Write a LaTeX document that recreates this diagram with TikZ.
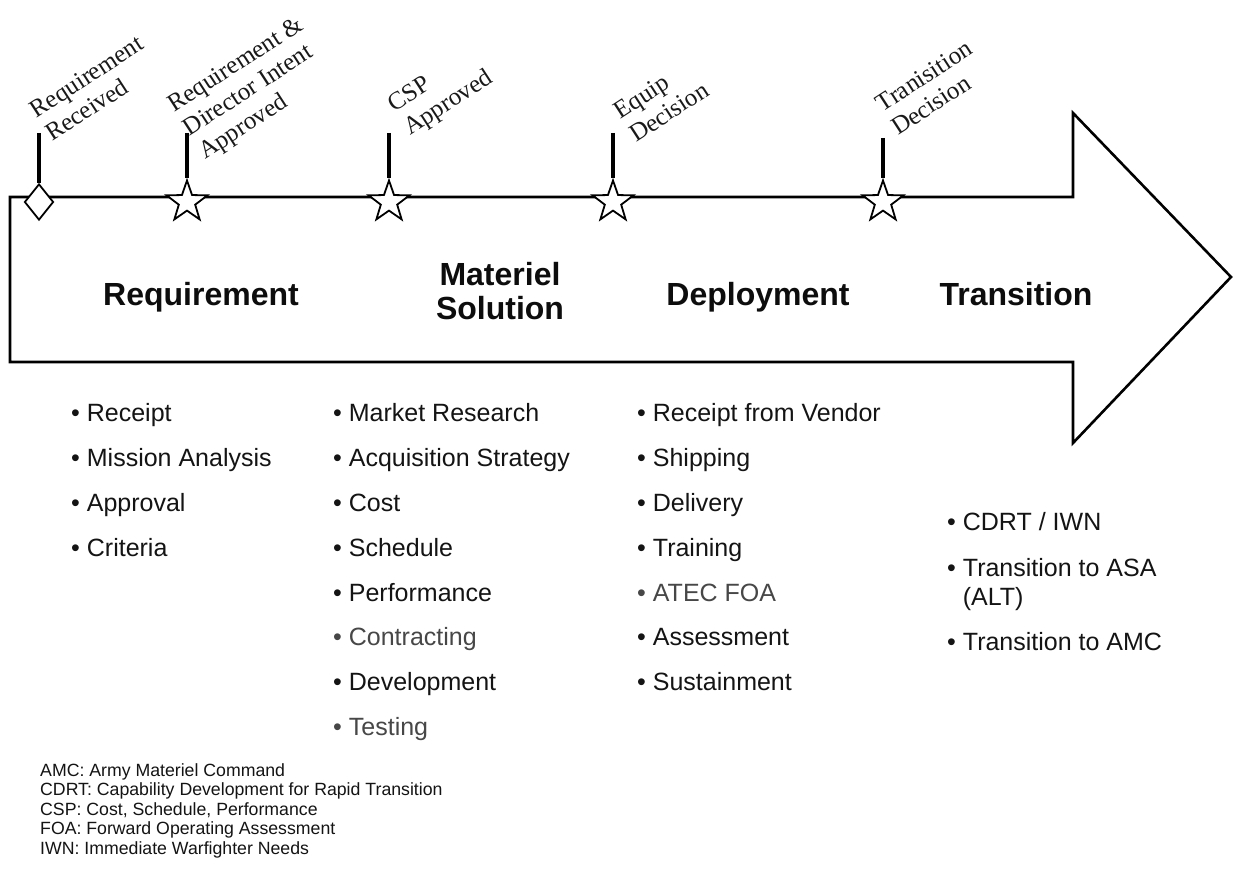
\documentclass[tikz,border=0pt]{standalone}
\usepackage{fontspec}
\setmainfont{Liberation Sans}
\newfontfamily\lblserif{Liberation Serif}
\usetikzlibrary{shapes.geometric}
\newcommand{\lblstack}[1]{\begin{tabular}[b]{@{}l@{}}#1\end{tabular}}
\begin{document}
\begin{tikzpicture}[x=1pt,y=-1pt,
  lbl/.style={font=\lblserif\fontsize{25}{28}\selectfont, rotate=33, anchor=base west, inner sep=0pt, text=black!90},
  head/.style={font=\bfseries\fontsize{32}{34}\selectfont, align=center, inner sep=0pt, text=black!95},
  item/.style={font=\fontsize{25}{29}\selectfont, anchor=base west, inner sep=0pt, text=black!92},
  gitem/.style={item, text=black!72},
  legend/.style={font=\fontsize{17.7}{19.5}\selectfont, anchor=base west, inner sep=0pt, text=black!92},
  tickline/.style={line width=3.6pt},
  outline/.style={line width=2.6pt, line join=miter},
  starmark/.style={star, star points=5, star point ratio=2.5, draw, fill=white, line width=1.8pt, minimum size=43pt, inner sep=0pt},
  diamark/.style={diamond, draw, fill=white, line width=1.8pt, minimum width=29pt, minimum height=36pt, inner sep=0pt},
]
\useasboundingbox (0,0) rectangle (1233,877);
\fill[white] (0,0) rectangle (1233,877);

% big arrow
\draw[outline] (10,362) -- (10,197) -- (1073,197) -- (1073,113) -- (1231,277) -- (1073,443) -- (1073,362) -- cycle;

% milestones
\node[diamark] (m0) at (39,202) {};
\node[starmark] (m1) at (187,202) {};
\node[starmark] (m2) at (389,202) {};
\node[starmark] (m3) at (613,202) {};
\node[starmark] (m4) at (883,202) {};
\coordinate (t0) at (39,133);
\coordinate (t1) at (187,133);
\coordinate (t2) at (389,133);
\coordinate (t3) at (613,133);
\coordinate (t4) at (883,138);
\draw[tickline] (t0) -- (m0.north);
\draw[tickline] (t1) -- (m1.north);
\draw[tickline] (t2) -- (m2.north);
\draw[tickline] (t3) -- (m3.north);
\draw[tickline] (t4) -- (m4.north);

% milestone labels
\node[lbl] (l0) at (52,142) {\lblstack{Requirement\\Received}};
\node[lbl] (l1) at (205,160) {\lblstack{Requirement \&\\Director Intent\\Approved}};
\node[lbl] (l2) at (410,136) {\lblstack{CSP\\Approved}};
\node[lbl] (l3) at (636,143) {\lblstack{Equip\\Decision}};
\node[lbl] (l4) at (898,136) {\lblstack{Tranisition\\Decision}};

% phase headings
\node[head, anchor=base] (h1) at (201,305) {Requirement};
\node[head, anchor=south] (h2) at (500,320) {Materiel\\Solution};
\node[head, anchor=base] (h3) at (758,305) {Deployment};
\node[head, anchor=base] (h4) at (1016,305) {Transition};

% column 1
\node[item] (a1) at (71,421) {• Receipt};
\node[item] (a2) at (71,466) {• Mission Analysis};
\node[item] (a3) at (71,511) {• Approval};
\node[item] (a4) at (71,556) {• Criteria};

% column 2
\node[item] (b1) at (333,421) {• Market Research};
\node[item] (b2) at (333,466) {• Acquisition Strategy};
\node[item] (b3) at (333,511) {• Cost};
\node[item] (b4) at (333,556) {• Schedule};
\node[item] (b5) at (333,601) {• Performance};
\node[gitem] (b6) at (333,645) {• Contracting};
\node[item] (b7) at (333,690) {• Development};
\node[gitem] (b8) at (333,735) {• Testing};

% column 3
\node[item] (c1) at (637,421) {• Receipt from Vendor};
\node[item] (c2) at (637,466) {• Shipping};
\node[item] (c3) at (637,511) {• Delivery};
\node[item] (c4) at (637,556) {• Training};
\node[gitem] (c5) at (637,601) {• ATEC FOA};
\node[item] (c6) at (637,645) {• Assessment};
\node[item] (c7) at (637,690) {• Sustainment};

% column 4
\node[item] (d1) at (947,530) {• CDRT / IWN};
\node[item] (d2) at (947,576) {• Transition to ASA};
\node[item] (d3) at (947,605) {\phantom{• }(ALT)};
\node[item] (d4) at (947,650) {• Transition to AMC};

% legend
\node[legend] (g1) at (40,776) {AMC: Army Materiel Command};
\node[legend] (g2) at (40,795.5) {CDRT: Capability Development for Rapid Transition};
\node[legend] (g3) at (40,815) {CSP: Cost, Schedule, Performance};
\node[legend] (g4) at (40,834.5) {FOA: Forward Operating Assessment};
\node[legend] (g5) at (40,854) {IWN: Immediate Warfighter Needs};
\end{tikzpicture}
\end{document}
